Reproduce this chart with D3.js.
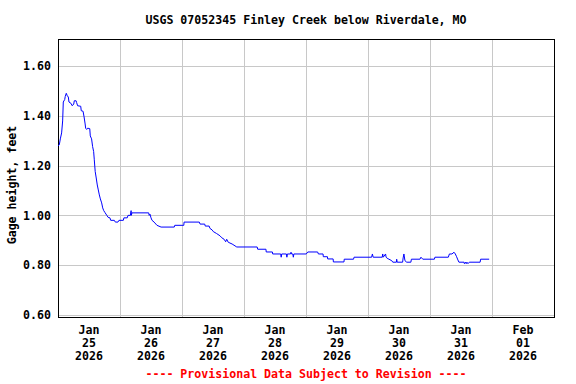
<!DOCTYPE html>
<html>
<head>
<meta charset="utf-8">
<script src="https://cdn.jsdelivr.net/npm/d3@7/dist/d3.min.js"></script>
<style>
  html, body { margin: 0; padding: 0; background: #fff; }
  svg { display: block; }
  text { font-family: "DejaVu Sans Mono", "Liberation Mono", monospace; font-weight: bold; font-size: 11.6px; }
</style>
</head>
<body>
<svg id="chart" width="576" height="384"></svg>
<script>
// ---- data ----
const title = "USGS 07052345 Finley Creek below Riverdale, MO";
const yLabel = "Gage height, feet";
const footer = "---- Provisional Data Subject to Revision ----";
const startTime = "2026-01-25T00:00:00";
const endTime = "2026-02-02T00:00:00";
// hours since Jan 25 2026 00:00
const hours = [0, 0.5, 0.9, 1.4, 1.8, 2.05, 2.6, 2.8, 3.2, 3.6, 4.0, 4.25, 5.0, 5.5, 6.1, 6.3, 7.0, 7.2, 7.6, 8.8, 9.0, 9.7, 10.1, 10.5, 10.7, 11.1, 11.5, 12.3, 12.5, 13.0, 13.4, 13.8, 14.05, 14.4, 14.8, 15.2, 15.6, 16.0, 16.4, 16.9, 17.3, 17.7, 18.2, 18.9, 19.4, 20.1, 20.4, 21.8, 22.2, 23.2, 23.6, 25.3, 25.5, 26.8, 27.1, 28.0, 28.3, 28.4, 28.6, 35.1, 35.3, 35.6, 36.0, 36.4, 37.2, 38.3, 39.9, 45.0, 45.2, 48.7, 48.8, 54.7, 55.0, 56.8, 57.0, 58.5, 58.8, 59.7, 60.1, 61.4, 62.7, 63.4, 64.3, 64.9, 65.3, 65.9, 67.4, 69.2, 77.1, 77.3, 80.5, 80.6, 83.0, 83.1, 86.2, 86.4, 86.6, 88.4, 88.6, 88.8, 90.0, 90.2, 90.4, 90.9, 91.1, 91.3, 96.1, 96.7, 100.5, 100.8, 102.6, 102.7, 104.3, 104.4, 106.5, 106.6, 110.7, 110.8, 114.4, 114.6, 121.4, 121.7, 122.0, 125.5, 125.7, 125.9, 126.8, 127.0, 127.4, 128.1, 129.2, 129.6, 131.0, 131.1, 131.3, 133.4, 133.6, 133.9, 134.3, 135.0, 136.6, 136.8, 140.1, 140.5, 141.2, 145.7, 145.9, 151.1, 151.5, 152.5, 153.3, 153.8, 154.3, 154.8, 155.2, 157.2, 157.3, 157.8, 158.0, 158.3, 158.7, 159.2, 163.4, 163.6, 166.9];
const gage = [1.279, 1.283, 1.307, 1.331, 1.379, 1.455, 1.465, 1.477, 1.49, 1.48, 1.475, 1.455, 1.45, 1.44, 1.447, 1.46, 1.46, 1.453, 1.44, 1.438, 1.42, 1.418, 1.395, 1.367, 1.35, 1.345, 1.35, 1.348, 1.319, 1.307, 1.276, 1.256, 1.223, 1.176, 1.15, 1.122, 1.102, 1.082, 1.066, 1.05, 1.03, 1.019, 1.011, 1.0, 0.992, 0.99, 0.98, 0.98, 0.973, 0.973, 0.98, 0.98, 0.99, 0.99, 1.0, 1.0, 1.019, 1.0, 1.01, 1.01, 1.0, 1.005, 0.99, 0.98, 0.973, 0.96, 0.953, 0.953, 0.96, 0.96, 0.973, 0.973, 0.965, 0.965, 0.957, 0.957, 0.948, 0.941, 0.935, 0.927, 0.918, 0.91, 0.904, 0.894, 0.904, 0.892, 0.885, 0.873, 0.873, 0.864, 0.864, 0.853, 0.853, 0.845, 0.845, 0.832, 0.845, 0.845, 0.832, 0.845, 0.845, 0.852, 0.845, 0.845, 0.832, 0.845, 0.845, 0.853, 0.853, 0.845, 0.845, 0.834, 0.834, 0.825, 0.825, 0.813, 0.813, 0.824, 0.824, 0.832, 0.832, 0.845, 0.832, 0.832, 0.845, 0.832, 0.845, 0.832, 0.828, 0.824, 0.818, 0.812, 0.812, 0.824, 0.812, 0.812, 0.829, 0.845, 0.818, 0.812, 0.812, 0.824, 0.824, 0.832, 0.824, 0.824, 0.832, 0.832, 0.845, 0.845, 0.852, 0.845, 0.834, 0.821, 0.812, 0.812, 0.806, 0.812, 0.806, 0.812, 0.806, 0.812, 0.812, 0.824, 0.824];
const yTicks = [0.6, 0.8, 1.0, 1.2, 1.4, 1.6];
const yDomain = [0.6, 1.708];
const dayGrid = ["2026-01-26", "2026-01-27", "2026-01-28", "2026-01-29", "2026-01-30", "2026-01-31", "2026-02-01"];
const dayLabels = [
  ["Jan", "25", "2026"], ["Jan", "26", "2026"], ["Jan", "27", "2026"], ["Jan", "28", "2026"],
  ["Jan", "29", "2026"], ["Jan", "30", "2026"], ["Jan", "31", "2026"], ["Feb", "01", "2026"]
];
const labelDays = ["2026-01-25", "2026-01-26", "2026-01-27", "2026-01-28", "2026-01-29", "2026-01-30", "2026-01-31", "2026-02-01"];

// ---- chart ----
const svg = d3.select("#chart");
const L = 58, T = 39, R = 554, B = 315;
const parse = s => new Date(s);
const t0 = parse(startTime);
const x = d3.scaleTime().domain([t0, parse(endTime)]).range([L, R]);
const y = d3.scaleLinear().domain(yDomain).range([B, T]);

const data = hours.map((h, i) => ({ t: new Date(t0.getTime() + h * 3600e3), v: gage[i] }));

// gridlines
svg.append("g").selectAll("line.h").data(yTicks).join("line")
  .attr("x1", L).attr("x2", R)
  .attr("y1", d => Math.round(y(d)) + 0.5).attr("y2", d => Math.round(y(d)) + 0.5)
  .attr("stroke", "#c8c8c8").attr("stroke-width", 1);
svg.append("g").selectAll("line.v").data(dayGrid).join("line")
  .attr("x1", d => Math.round(x(parse(d + "T00:00:00"))) + 0.5)
  .attr("x2", d => Math.round(x(parse(d + "T00:00:00"))) + 0.5)
  .attr("y1", T).attr("y2", B + 2)
  .attr("stroke", "#c8c8c8").attr("stroke-width", 1);

// frame
svg.append("rect").attr("x", L + 0.5).attr("y", T + 0.5)
  .attr("width", R - L).attr("height", B + 2 - T)
  .attr("fill", "none").attr("stroke", "#000").attr("stroke-width", 1);

// line
const line = d3.line().x(d => x(d.t)).y(d => y(d.v));
svg.append("path").datum(data).attr("d", line)
  .attr("fill", "none").attr("stroke", "#0000ff").attr("stroke-width", 1);

// y tick labels
svg.append("g").selectAll("text").data(yTicks).join("text")
  .attr("x", 51).attr("y", d => y(d)).attr("dy", "0.36em")
  .attr("text-anchor", "end").text(d => d3.format(".2f")(d));

// x labels
const xl = svg.append("g").selectAll("text").data(labelDays).join("text")
  .attr("text-anchor", "middle")
  .attr("transform", d => `translate(${x(new Date(parse(d + "T00:00:00").getTime() + 12 * 3600e3))},0)`);
xl.each(function(d, i) {
  const g = d3.select(this);
  dayLabels[i].forEach((s, j) => {
    g.append("tspan").attr("x", 0).attr("y", 334 + j * 13).text(s);
  });
});

// title
svg.append("text").attr("x", (L + R) / 2).attr("y", 24).attr("text-anchor", "middle").text(title);
// y label
svg.append("text").attr("transform", `translate(16,${(T + B) / 2 + 8}) rotate(-90)`)
  .attr("text-anchor", "middle").text(yLabel);
// footer
svg.append("text").attr("x", (L + R) / 2).attr("y", 378).attr("text-anchor", "middle")
  .attr("fill", "#ff0000").text(footer);
</script>
</body>
</html>
